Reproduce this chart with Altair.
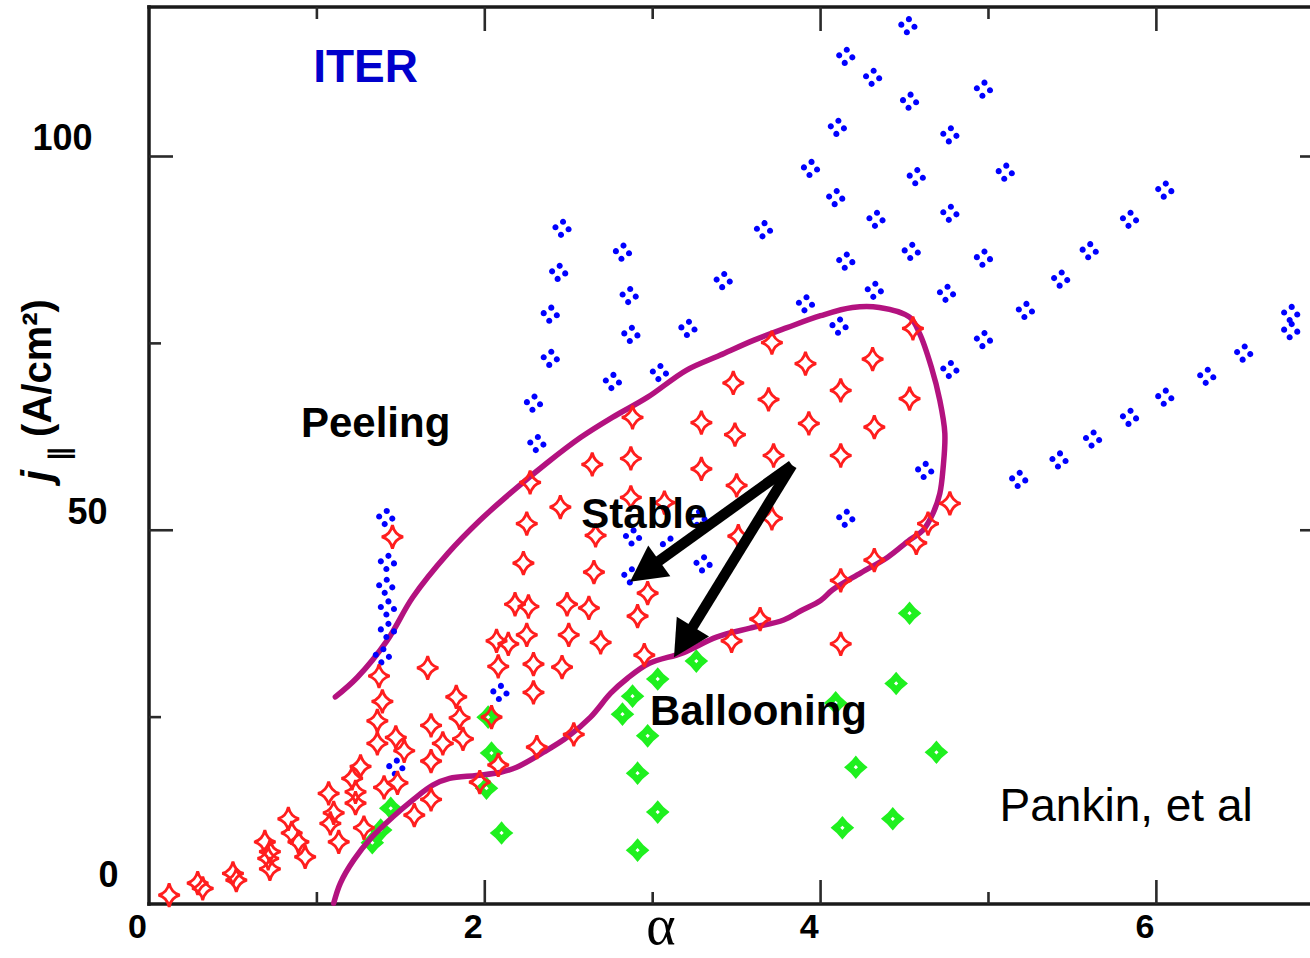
import math
import altair as alt
import pandas as pd

# ---- marker data: (alpha, j_parallel [A/cm^2]) ----
# unstable to peeling modes
blue_x = [4.15, 4.31, 4.10, 3.94, 4.09, 4.33, 2.46, 2.82, 2.44, 2.86, 3.66, 3.42, 4.15, 4.32, 3.91, 2.39,
          4.52, 4.53, 4.97, 4.77, 4.57, 5.10, 4.77, 4.54, 4.97, 5.60, 6.05, 5.84, 4.75, 5.43, 5.22, 6.80,
          4.97, 4.77, 6.80, 6.52, 6.30, 6.05, 5.84, 5.62, 5.42, 5.18, 4.62, 2.87, 3.21, 2.39, 2.76, 3.04,
          2.29, 2.31, 4.11, 4.15, 2.88, 3.10, 3.30, 2.87, 3.27, 1.41, 1.42, 1.41, 1.42, 1.42, 1.39, 1.47, 2.09]
blue_y = [113.4, 110.6, 103.9, 98.4, 94.5, 91.6, 90.4, 87.2, 84.5, 81.4, 90.2, 83.4, 86.0, 82.1, 80.3, 78.9,
          117.5, 107.4, 109.0, 102.9, 97.3, 97.9, 92.4, 87.3, 86.4, 87.4, 95.5, 91.6, 81.7, 83.6, 79.4, 79.0,
          75.5, 71.5, 76.7, 73.7, 70.6, 67.8, 65.1, 62.2, 59.4, 56.8, 58.0, 76.2, 77.0, 73.0, 69.9, 71.1,
          67.0, 61.6, 77.3, 51.6, 49.1, 48.0, 45.5, 43.9, 51.6, 51.7, 45.7, 42.5, 39.6, 36.6, 33.2, 18.3, 28.3]

# stable equilibria
red_x = [4.55, 3.71, 3.91, 4.31, 3.48, 3.69, 4.12, 4.53, 2.88, 3.29,
         3.49, 3.93, 4.32, 2.87, 3.72, 4.12, 3.29, 3.50, 2.87, 3.07,
         3.71, 3.51, 4.77, 4.64, 4.57, 4.32, 4.12, 2.97, 2.64, 2.27,
         2.45, 2.25, 2.66, 2.23, 2.65, 2.18, 2.26, 2.49, 2.62, 2.91,
         3.64, 1.45, 2.07, 2.14, 2.25, 2.50, 2.69, 2.95, 2.08, 2.29,
         2.46, 1.66, 1.37, 1.39, 1.36, 1.83, 1.85, 2.04, 2.29, 1.68,
         1.36, 1.47, 1.52, 1.75, 1.87, 1.68, 1.26, 1.21, 1.07, 1.23,
         1.23, 1.40, 1.48, 2.08, 1.97, 1.68, 1.10, 1.08, 1.58, 0.83,
         0.85, 0.89, 1.28, 1.13, 0.69, 0.72, 0.71, 0.72, 0.93, 0.50,
         0.52, 0.29, 0.32, 0.12, 2.31, 2.53, 3.47, 4.12]
red_y = [77.0, 75.1, 72.3, 72.9, 69.7, 67.5, 68.7, 67.6, 65.1, 64.4,
         62.8, 64.3, 63.8, 59.6, 60.0, 60.0, 58.2, 56.0, 54.4, 53.7,
         51.6, 49.2, 53.6, 50.9, 48.3, 46.0, 43.3, 41.6, 58.8, 56.4,
         53.1, 50.9, 49.3, 45.6, 44.4, 40.1, 39.8, 40.1, 39.6, 38.5,
         38.1, 49.1, 35.2, 34.8, 36.0, 36.0, 35.0, 33.3, 31.8, 32.1,
         31.7, 31.6, 30.5, 27.1, 24.5, 27.7, 24.9, 25.0, 28.3, 23.9,
         21.5, 22.3, 20.5, 21.5, 22.1, 19.1, 18.4, 16.8, 14.8, 15.0,
         13.5, 15.6, 16.2, 18.6, 16.3, 14.0, 12.2, 10.8, 11.9, 11.4,
         9.5, 8.3, 10.2, 8.3, 8.3, 7.0, 6.1, 4.7, 6.3, 4.1,
         3.2, 2.8, 2.1, 1.2, 21.0, 22.7, 35.2, 34.8]

# unstable to ballooning modes
green_x = [2.02, 2.04, 2.01, 2.10, 2.88, 2.82, 3.03, 3.26, 2.97, 2.91, 3.03, 2.91,
           4.09, 4.21, 4.13, 4.45, 4.43, 4.53, 4.69, 1.44, 1.38, 1.33]
green_y = [25.0, 20.2, 15.5, 9.5, 27.8, 25.4, 30.1, 32.5, 22.5, 17.5, 12.3, 7.2,
           26.9, 18.3, 10.2, 29.5, 11.4, 38.9, 20.3, 12.8, 9.9, 8.2]

# stability boundary, traced from the peeling end round to the ballooning end
boundary_x = [1.11, 1.24, 1.42, 1.57, 1.78, 1.97, 2.17, 2.37, 2.57, 2.76,
              2.97, 3.20, 3.40, 3.60, 3.80, 4.00, 4.19, 4.35, 4.53, 4.59,
              4.66, 4.71, 4.74, 4.73, 4.71, 4.67, 4.61, 4.53, 4.40, 4.24,
              4.07, 4.00, 3.88, 3.78, 3.58, 3.38, 3.18, 2.98, 2.85, 2.75,
              2.63, 2.49, 2.35, 2.19, 2.09, 1.95, 1.79, 1.69, 1.57, 1.45,
              1.33, 1.22, 1.14, 1.10]
boundary_y = [27.7, 30.3, 35.3, 41.0, 46.9, 51.3, 55.3, 59.0, 62.4, 65.1,
              67.8, 71.4, 73.4, 75.4, 77.1, 78.7, 79.8, 79.8, 78.5, 76.3,
              71.8, 67.4, 63.0, 58.4, 54.9, 52.3, 50.0, 48.7, 46.4, 44.3,
              42.0, 40.6, 39.2, 38.0, 36.9, 35.7, 33.6, 32.2, 30.2, 28.2,
              25.0, 22.3, 20.3, 18.3, 17.6, 17.2, 16.8, 15.9, 13.9, 11.6,
              9.0, 5.9, 2.8, 0.1]

# axes
x_tick_labels = [0, 2, 4, 6]
y_tick_labels = [0, 50, 100]
x_major_ticks = [2, 4, 6]
x_minor_ticks = [1, 3, 5]
y_major_ticks = [50, 100]
y_minor_ticks = [25, 75]

# annotations
region_text = ["Peeling", "Stable", "Ballooning"]
region_x = [1.35, 2.95, 3.63]
region_y = [64.2, 52.1, 25.7]
device_text = ["ITER"]
device_x = [1.29]
device_y = [111.8]
credit_text = ["Pankin, et al"]
credit_x = [5.82]
credit_y = [13.0]

arrow_tail = (3.83, 58.7)
arrow_tip_x = [2.865, 3.127]
arrow_tip_y = [43.1, 33.0]

# ---- layout ----
W, H = 1161, 897
X_MAX, Y_MAX = 6.915, 120.0
PAD_L, PAD_T = 149, 7
sx, sy = W / X_MAX, H / Y_MAX

FONT = "Liberation Sans"
xs = alt.Scale(domain=[0, X_MAX], nice=False, zero=False)
ys = alt.Scale(domain=[0, Y_MAX], nice=False, zero=False)

x_axis = alt.Axis(values=x_tick_labels, format="d", domain=False, ticks=False, grid=False, title=None,
                  labelFont=FONT, labelFontWeight="bold", labelFontSize=34, labelColor="black",
                  labelPadding=6, labelOffset=-12, labelFlush=False, labelOverlap=False)
y_axis = alt.Axis(values=y_tick_labels, format="d", domain=False, ticks=False, grid=False, title=None,
                  labelFont=FONT, labelFontWeight="bold", labelFontSize=36, labelColor="black",
                  labelBaseline="middle", labelFlush=False, labelOverlap=False,
                  labelPadding={"condition": [{"test": "datum.value === 100", "value": 57},
                                              {"test": "datum.value === 0", "value": 31}],
                                "value": 42},
                  labelOffset={"condition": [{"test": "datum.value === 0", "value": -29}],
                               "value": -18})


def X(field):
    return alt.X(f"{field}:Q", scale=xs, axis=x_axis)


def Y(field):
    return alt.Y(f"{field}:Q", scale=ys, axis=y_axis)


# ---- frame and inward ticks ----
frame = pd.DataFrame({
    "x": [0, 0, 0], "x2": [0, X_MAX, X_MAX],
    "y": [0, 0, Y_MAX], "y2": [Y_MAX, 0, Y_MAX],
})
tick_rows = []
for v, n in [(v, 24) for v in x_major_ticks] + [(v, 12) for v in x_minor_ticks]:
    tick_rows.append({"x": v, "x2": v, "y": 0, "y2": n / sy})
    tick_rows.append({"x": v, "x2": v, "y": Y_MAX, "y2": Y_MAX - n / sy})
for v, n in [(v, 24) for v in y_major_ticks] + [(v, 12) for v in y_minor_ticks]:
    tick_rows.append({"x": 0, "x2": n / sx, "y": v, "y2": v})
for v in y_major_ticks:
    tick_rows.append({"x": X_MAX, "x2": X_MAX - 10 / sx, "y": v, "y2": v})
ticks = pd.DataFrame(tick_rows)

frame_layer = alt.Chart(frame).mark_rule(color="#1a1a1a", strokeWidth=3.5, strokeCap="square").encode(
    x=X("x"), x2="x2", y=Y("y"), y2="y2")
tick_layer = alt.Chart(ticks).mark_rule(color="#2a2a2a", strokeWidth=2.6).encode(
    x=X("x"), x2="x2", y=Y("y"), y2="y2")

# ---- marker shapes ----
def dot(cx, cy, r):
    return (f"M{cx + r},{cy} A{r},{r} 0 1,1 {cx - r},{cy} "
            f"A{r},{r} 0 1,1 {cx + r},{cy} Z")


BLUE_SHAPE = " ".join([dot(0.1, -0.64, 0.3), dot(0.64, 0.1, 0.3),
                       dot(-0.1, 0.64, 0.3), dot(-0.64, -0.1, 0.3)])
RED_SHAPE = ("M0,-1 Q0.18,-0.18 0.9,0 Q0.18,0.18 0,1 "
             "Q-0.18,0.18 -0.9,0 Q-0.18,-0.18 0,-1 Z")
GREEN_SHAPE = ("M0,-1 Q0.42,-0.42 1,0 Q0.42,0.42 0,1 Q-0.42,0.42 -1,0 Q-0.42,-0.42 0,-1 Z "
               "M0,-0.18 L-0.18,0 L0,0.18 L0.18,0 Z")
HEAD_SHAPE = "M0,0 L-1.05,2 L1.05,2 Z"

blue_df = pd.DataFrame({"x": blue_x, "y": blue_y})
red_df = pd.DataFrame({"x": red_x, "y": red_y})
green_df = pd.DataFrame({"x": green_x, "y": green_y})
boundary_df = pd.DataFrame({"x": boundary_x, "y": boundary_y, "k": range(len(boundary_x))})

green_layer = alt.Chart(green_df).mark_point(
    shape=GREEN_SHAPE, filled=True, color="#1ff01f", size=560, opacity=1, strokeWidth=0
).encode(x=X("x"), y=Y("y"))

curve_layer = alt.Chart(boundary_df).mark_line(
    color="#b3127f", strokeWidth=5.5, interpolate="catmull-rom", strokeCap="round"
).encode(x=X("x"), y=Y("y"), order="k:Q")

blue_layer = alt.Chart(blue_df).mark_point(
    shape=BLUE_SHAPE, filled=True, color="#0000ff", size=420, opacity=1, strokeWidth=0
).encode(x=X("x"), y=Y("y"))

red_layer = alt.Chart(red_df).mark_point(
    shape=RED_SHAPE, filled=False, color="#ff1e1e", size=560, opacity=1, strokeWidth=2.8
).encode(x=X("x"), y=Y("y"))

# ---- arrows ----
tail_x, tail_y = arrow_tail
arrow_rows = []
for tx, ty in zip(arrow_tip_x, arrow_tip_y):
    dxp = (tx - tail_x) * sx
    dyp = -(ty - tail_y) * sy
    L = math.hypot(dxp, dyp)
    ux, uy = dxp / L, dyp / L
    back = 24
    arrow_rows.append({
        "x0": tail_x, "y0": tail_y,
        "x1": tx - ux * back / sx, "y1": ty + uy * back / sy,
        "tx": tx, "ty": ty,
        "ang": (math.degrees(math.atan2(dyp, dxp)) + 90) % 360,
    })
arrow_df = pd.DataFrame(arrow_rows)

shaft_layer = alt.Chart(arrow_df).mark_rule(color="black", strokeWidth=10.5, strokeCap="butt").encode(
    x=X("x0"), y=Y("y0"), x2="x1", y2="y1")
head_layer = alt.Chart(arrow_df).mark_point(
    shape=HEAD_SHAPE, filled=True, color="black", size=1300, opacity=1, strokeWidth=0
).encode(x=X("tx"), y=Y("ty"), angle=alt.Angle("ang:Q", scale=None))

# ---- text ----
region_layer = alt.Chart(pd.DataFrame({"x": region_x, "y": region_y, "t": region_text})).mark_text(
    font=FONT, fontWeight="bold", fontSize=42, color="black", align="center", baseline="middle"
).encode(x=X("x"), y=Y("y"), text="t:N")

device_layer = alt.Chart(pd.DataFrame({"x": device_x, "y": device_y, "t": device_text})).mark_text(
    font=FONT, fontWeight="bold", fontSize=46, color="#0000cc", align="center", baseline="middle"
).encode(x=X("x"), y=Y("y"), text="t:N")

credit_layer = alt.Chart(pd.DataFrame({"x": credit_x, "y": credit_y, "t": credit_text})).mark_text(
    font=FONT, fontSize=46, color="black", align="center", baseline="middle"
).encode(x=X("x"), y=Y("y"), text="t:N")

one = pd.DataFrame({"k": [0]})
alpha_title = alt.Chart(one).mark_text(
    text="α", font="Liberation Serif", fontSize=56, color="black", align="center", baseline="middle"
).encode(x=alt.value(661 - PAD_L), y=alt.value(927 - PAD_T))
j_title = alt.Chart(one).mark_text(
    text="j", font=FONT, fontWeight="bold", fontStyle="italic", fontSize=42, angle=270,
    color="black", align="center", baseline="middle"
).encode(x=alt.value(38 - PAD_L), y=alt.value(476 - PAD_T))
par_title = alt.Chart(one).mark_text(
    text="∥", font="DejaVu Sans", fontWeight="bold", fontSize=28, angle=270,
    color="black", align="center", baseline="middle"
).encode(x=alt.value(61 - PAD_L), y=alt.value(454 - PAD_T))
unit_title = alt.Chart(one).mark_text(
    text="(A/cm²)", font=FONT, fontWeight="bold", fontSize=40, angle=270,
    color="black", align="center", baseline="middle"
).encode(x=alt.value(39 - PAD_L), y=alt.value(368 - PAD_T))

chart = alt.layer(
    frame_layer, tick_layer, green_layer, curve_layer, blue_layer, red_layer,
    shaft_layer, head_layer, region_layer, device_layer, credit_layer,
    alpha_title, j_title, par_title, unit_title,
).properties(
    width=W, height=H, autosize="none",
    padding={"left": PAD_L, "top": PAD_T, "right": 0, "bottom": 958 - PAD_T - H},
).configure_view(stroke=None)

chart.save("out.html", embed_options={"renderer": "svg", "actions": False})
